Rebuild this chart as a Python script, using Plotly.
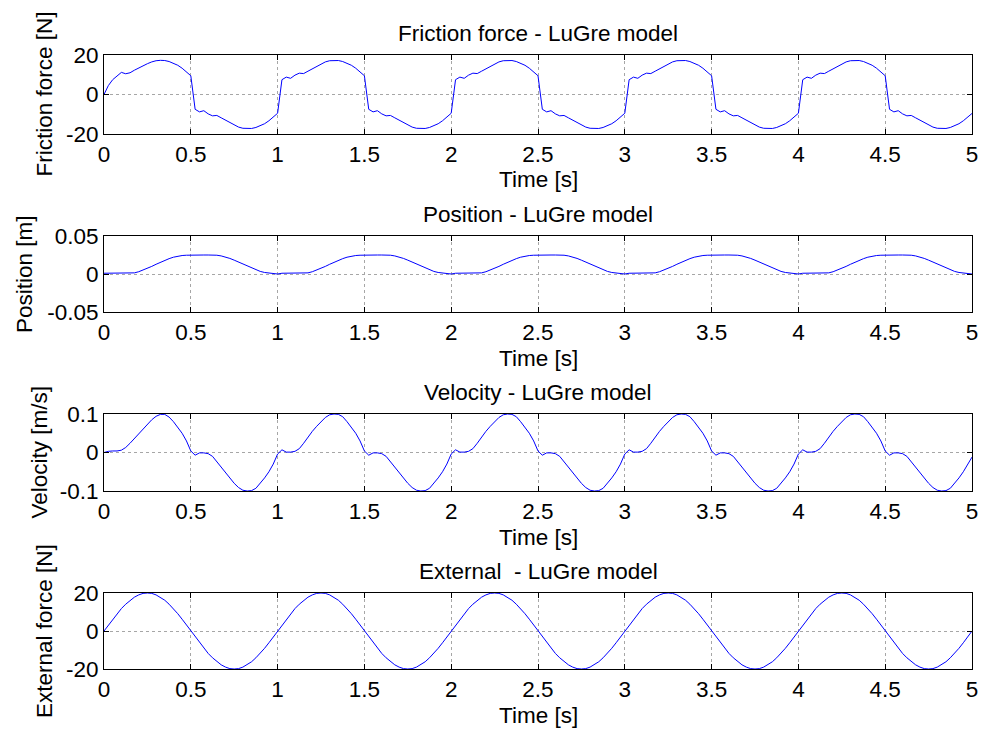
import plotly.graph_objects as go

# ---------------- data ----------------
sample_step = 0.025
time_s = [round(i * sample_step, 3) for i in range(201)]

friction_force = [
    0.0, 4.5, 7.5, 9.5, 11.2, 10.5, 11.0, 12.3, 13.5, 14.6, 15.6, 16.5, 17.1, 17.3, 17.2, 16.7, 15.9, 14.8, 13.3, 11.4,
    9.5, -7.5, -8.8, -8.2, -9.8, -10.8, -10.6, -11.8, -13.0, -14.3, -15.5, -16.5, -17.1, -17.3, -17.2, -16.7, -15.9, -14.8, -13.3, -11.4,
    -9.5, 7.5, 8.8, 8.2, 9.8, 10.8, 10.6, 11.8, 13.0, 14.3, 15.5, 16.5, 17.1, 17.3, 17.2, 16.7, 15.9, 14.8, 13.3, 11.4,
    9.5, -7.5, -8.8, -8.2, -9.8, -10.8, -10.6, -11.8, -13.0, -14.3, -15.5, -16.5, -17.1, -17.3, -17.2, -16.7, -15.9, -14.8, -13.3, -11.4,
    -9.5, 7.5, 8.8, 8.2, 9.8, 10.8, 10.6, 11.8, 13.0, 14.3, 15.5, 16.5, 17.1, 17.3, 17.2, 16.7, 15.9, 14.8, 13.3, 11.4,
    9.5, -7.5, -8.8, -8.2, -9.8, -10.8, -10.6, -11.8, -13.0, -14.3, -15.5, -16.5, -17.1, -17.3, -17.2, -16.7, -15.9, -14.8, -13.3, -11.4,
    -9.5, 7.5, 8.8, 8.2, 9.8, 10.8, 10.6, 11.8, 13.0, 14.3, 15.5, 16.5, 17.1, 17.3, 17.2, 16.7, 15.9, 14.8, 13.3, 11.4,
    9.5, -7.5, -8.8, -8.2, -9.8, -10.8, -10.6, -11.8, -13.0, -14.3, -15.5, -16.5, -17.1, -17.3, -17.2, -16.7, -15.9, -14.8, -13.3, -11.4,
    -9.5, 7.5, 8.8, 8.2, 9.8, 10.8, 10.6, 11.8, 13.0, 14.3, 15.5, 16.5, 17.1, 17.3, 17.2, 16.7, 15.9, 14.8, 13.3, 11.4,
    9.5, -7.5, -8.8, -8.2, -9.8, -10.8, -10.6, -11.8, -13.0, -14.3, -15.5, -16.5, -17.1, -17.3, -17.2, -16.7, -15.9, -14.8, -13.3, -11.4,
    -9.6,
]

position_m = [
    0.001, 0.001, 0.001, 0.001, 0.001, 0.001, 0.001, 0.0015, 0.003, 0.005, 0.0075, 0.010, 0.0128, 0.0155, 0.018, 0.0202, 0.0221, 0.0235, 0.0243, 0.0247,
    0.025, 0.025, 0.025, 0.025, 0.025, 0.025, 0.0247, 0.0238, 0.0224, 0.0205, 0.0182, 0.0156, 0.0129, 0.0102, 0.0076, 0.0053, 0.0034, 0.0020, 0.0012, 0.0010,
    0.0000, 0.001, 0.001, 0.001, 0.001, 0.001, 0.001, 0.0015, 0.003, 0.005, 0.0075, 0.010, 0.0128, 0.0155, 0.018, 0.0202, 0.0221, 0.0235, 0.0243, 0.0247,
    0.025, 0.025, 0.025, 0.025, 0.025, 0.025, 0.0247, 0.0238, 0.0224, 0.0205, 0.0182, 0.0156, 0.0129, 0.0102, 0.0076, 0.0053, 0.0034, 0.0020, 0.0012, 0.0010,
    0.0000, 0.001, 0.001, 0.001, 0.001, 0.001, 0.001, 0.0015, 0.003, 0.005, 0.0075, 0.010, 0.0128, 0.0155, 0.018, 0.0202, 0.0221, 0.0235, 0.0243, 0.0247,
    0.025, 0.025, 0.025, 0.025, 0.025, 0.025, 0.0247, 0.0238, 0.0224, 0.0205, 0.0182, 0.0156, 0.0129, 0.0102, 0.0076, 0.0053, 0.0034, 0.0020, 0.0012, 0.0010,
    0.0000, 0.001, 0.001, 0.001, 0.001, 0.001, 0.001, 0.0015, 0.003, 0.005, 0.0075, 0.010, 0.0128, 0.0155, 0.018, 0.0202, 0.0221, 0.0235, 0.0243, 0.0247,
    0.025, 0.025, 0.025, 0.025, 0.025, 0.025, 0.0247, 0.0238, 0.0224, 0.0205, 0.0182, 0.0156, 0.0129, 0.0102, 0.0076, 0.0053, 0.0034, 0.0020, 0.0012, 0.0010,
    0.0000, 0.001, 0.001, 0.001, 0.001, 0.001, 0.001, 0.0015, 0.003, 0.005, 0.0075, 0.010, 0.0128, 0.0155, 0.018, 0.0202, 0.0221, 0.0235, 0.0243, 0.0247,
    0.025, 0.025, 0.025, 0.025, 0.025, 0.025, 0.0247, 0.0238, 0.0224, 0.0205, 0.0182, 0.0156, 0.0129, 0.0102, 0.0076, 0.0053, 0.0034, 0.0020, 0.0012, 0.0010,
    0.0000,
]

velocity_ms = [
    0.000, 0.003, 0.004, 0.004, 0.006, 0.013, 0.024, 0.036, 0.048, 0.061, 0.074, 0.085, 0.094, 0.099, 0.099, 0.092, 0.080, 0.066, 0.050, 0.030,
    0.004, -0.007, -0.001, -0.001, -0.003, -0.010, -0.024, -0.040, -0.055, -0.068, -0.080, -0.091, -0.098, -0.100, -0.099, -0.093, -0.080, -0.066, -0.050, -0.030,
    -0.004, 0.007, 0.001, 0.001, 0.003, 0.010, 0.024, 0.040, 0.055, 0.068, 0.080, 0.091, 0.098, 0.100, 0.099, 0.093, 0.080, 0.066, 0.050, 0.030,
    0.004, -0.007, -0.001, -0.001, -0.003, -0.010, -0.024, -0.040, -0.055, -0.068, -0.080, -0.091, -0.098, -0.100, -0.099, -0.093, -0.080, -0.066, -0.050, -0.030,
    -0.004, 0.007, 0.001, 0.001, 0.003, 0.010, 0.024, 0.040, 0.055, 0.068, 0.080, 0.091, 0.098, 0.100, 0.099, 0.093, 0.080, 0.066, 0.050, 0.030,
    0.004, -0.007, -0.001, -0.001, -0.003, -0.010, -0.024, -0.040, -0.055, -0.068, -0.080, -0.091, -0.098, -0.100, -0.099, -0.093, -0.080, -0.066, -0.050, -0.030,
    -0.004, 0.007, 0.001, 0.001, 0.003, 0.010, 0.024, 0.040, 0.055, 0.068, 0.080, 0.091, 0.098, 0.100, 0.099, 0.093, 0.080, 0.066, 0.050, 0.030,
    0.004, -0.007, -0.001, -0.001, -0.003, -0.010, -0.024, -0.040, -0.055, -0.068, -0.080, -0.091, -0.098, -0.100, -0.099, -0.093, -0.080, -0.066, -0.050, -0.030,
    -0.004, 0.007, 0.001, 0.001, 0.003, 0.010, 0.024, 0.040, 0.055, 0.068, 0.080, 0.091, 0.098, 0.100, 0.099, 0.093, 0.080, 0.066, 0.050, 0.030,
    0.004, -0.007, -0.001, -0.001, -0.003, -0.010, -0.024, -0.040, -0.055, -0.068, -0.080, -0.091, -0.098, -0.100, -0.099, -0.093, -0.080, -0.066, -0.050, -0.030,
    -0.012,
]

external_force = [
    0.0, 3.1, 6.2, 9.1, 11.8, 14.1, 16.2, 17.8, 19.0, 19.8, 20.0, 19.8, 19.0, 17.8, 16.2, 14.1, 11.8, 9.1, 6.2, 3.1,
    0.0, -3.1, -6.2, -9.1, -11.8, -14.1, -16.2, -17.8, -19.0, -19.8, -20.0, -19.8, -19.0, -17.8, -16.2, -14.1, -11.8, -9.1, -6.2, -3.1,
    0.0, 3.1, 6.2, 9.1, 11.8, 14.1, 16.2, 17.8, 19.0, 19.8, 20.0, 19.8, 19.0, 17.8, 16.2, 14.1, 11.8, 9.1, 6.2, 3.1,
    0.0, -3.1, -6.2, -9.1, -11.8, -14.1, -16.2, -17.8, -19.0, -19.8, -20.0, -19.8, -19.0, -17.8, -16.2, -14.1, -11.8, -9.1, -6.2, -3.1,
    0.0, 3.1, 6.2, 9.1, 11.8, 14.1, 16.2, 17.8, 19.0, 19.8, 20.0, 19.8, 19.0, 17.8, 16.2, 14.1, 11.8, 9.1, 6.2, 3.1,
    0.0, -3.1, -6.2, -9.1, -11.8, -14.1, -16.2, -17.8, -19.0, -19.8, -20.0, -19.8, -19.0, -17.8, -16.2, -14.1, -11.8, -9.1, -6.2, -3.1,
    0.0, 3.1, 6.2, 9.1, 11.8, 14.1, 16.2, 17.8, 19.0, 19.8, 20.0, 19.8, 19.0, 17.8, 16.2, 14.1, 11.8, 9.1, 6.2, 3.1,
    0.0, -3.1, -6.2, -9.1, -11.8, -14.1, -16.2, -17.8, -19.0, -19.8, -20.0, -19.8, -19.0, -17.8, -16.2, -14.1, -11.8, -9.1, -6.2, -3.1,
    0.0, 3.1, 6.2, 9.1, 11.8, 14.1, 16.2, 17.8, 19.0, 19.8, 20.0, 19.8, 19.0, 17.8, 16.2, 14.1, 11.8, 9.1, 6.2, 3.1,
    0.0, -3.1, -6.2, -9.1, -11.8, -14.1, -16.2, -17.8, -19.0, -19.8, -20.0, -19.8, -19.0, -17.8, -16.2, -14.1, -11.8, -9.1, -6.2, -3.1,
    0.0,
]

titles = ["Friction force - LuGre model", "Position - LuGre model",
          "Velocity - LuGre model", "External  - LuGre model"]
y_titles = ["Friction force [N]", "Position [m]", "Velocity [m/s]", "External force [N]"]
x_title = "Time [s]"
x_ticks = [0, 0.5, 1, 1.5, 2, 2.5, 3, 3.5, 4, 4.5, 5]
x_ticktext = ["0", "0.5", "1", "1.5", "2", "2.5", "3", "3.5", "4", "4.5", "5"]
y_ticks = [[-20, 0, 20], [-0.05, 0, 0.05], [-0.1, 0, 0.1], [-20, 0, 20]]
y_ticktext = [["-20", "0", "20"], ["-0.05", "0", "0.05"], ["-0.1", "0", "0.1"], ["-20", "0", "20"]]
series = [friction_force, position_m, velocity_ms, external_force]

# ---------------- layout (pixels) ----------------
W, H = 981, 731
FONT = "Liberation Sans, Arial, sans-serif"
FS = 22.5
box_left, box_right = 104, 972
box_tops = [55, 236, 414, 593]
box_bottoms = [134, 312, 491, 669]
ytitle_x = [44, 24, 39, 44]

fig = go.Figure()
annotations = []
for i in range(4):
    n = "" if i == 0 else str(i + 1)
    fig.add_trace(go.Scatter(x=time_s, y=series[i], mode="lines",
                             line=dict(color="#0000FF", width=1),
                             xaxis="x" + n, yaxis="y" + n, showlegend=False,
                             hoverinfo="x+y"))
    common = dict(showline=True, linecolor="black", linewidth=1, mirror="ticks",
                  ticks="inside", ticklen=5, tickcolor="black", tickwidth=1,
                  showgrid=True, gridcolor="#a6a6a6", griddash="dot", gridwidth=1,
                  zeroline=False, automargin=False,
                  tickfont=dict(family=FONT, size=FS, color="black"))
    fig.update_layout(**{
        "xaxis" + n: dict(common, domain=[box_left / W, box_right / W],
                          range=[0, 5], tickvals=x_ticks, ticktext=x_ticktext,
                          anchor="y" + n),
        "yaxis" + n: dict(common, domain=[1 - box_bottoms[i] / H, 1 - box_tops[i] / H],
                          range=[y_ticks[i][0], y_ticks[i][2]], tickvals=y_ticks[i],
                          ticktext=y_ticktext[i], anchor="x" + n),
    })
    cx = (box_left + box_right) / 2
    annotations.append(dict(text=titles[i], x=cx / W, y=1 - (box_tops[i] - 22) / H,
                            xref="paper", yref="paper", showarrow=False,
                            xanchor="center", yanchor="middle",
                            font=dict(family=FONT, size=FS, color="black")))
    annotations.append(dict(text=x_title, x=cx / W, y=1 - (box_bottoms[i] + 46) / H,
                            xref="paper", yref="paper", showarrow=False,
                            xanchor="center", yanchor="middle",
                            font=dict(family=FONT, size=FS, color="black")))
    annotations.append(dict(text=y_titles[i], x=ytitle_x[i] / W,
                            y=1 - (box_tops[i] + box_bottoms[i]) / 2 / H,
                            xref="paper", yref="paper", showarrow=False, textangle=-90,
                            xanchor="center", yanchor="middle",
                            font=dict(family=FONT, size=FS, color="black")))

fig.update_layout(width=W, height=H, margin=dict(l=0, r=0, t=0, b=0),
                  paper_bgcolor="white", plot_bgcolor="white",
                  annotations=annotations)
fig.write_html("out.html")
